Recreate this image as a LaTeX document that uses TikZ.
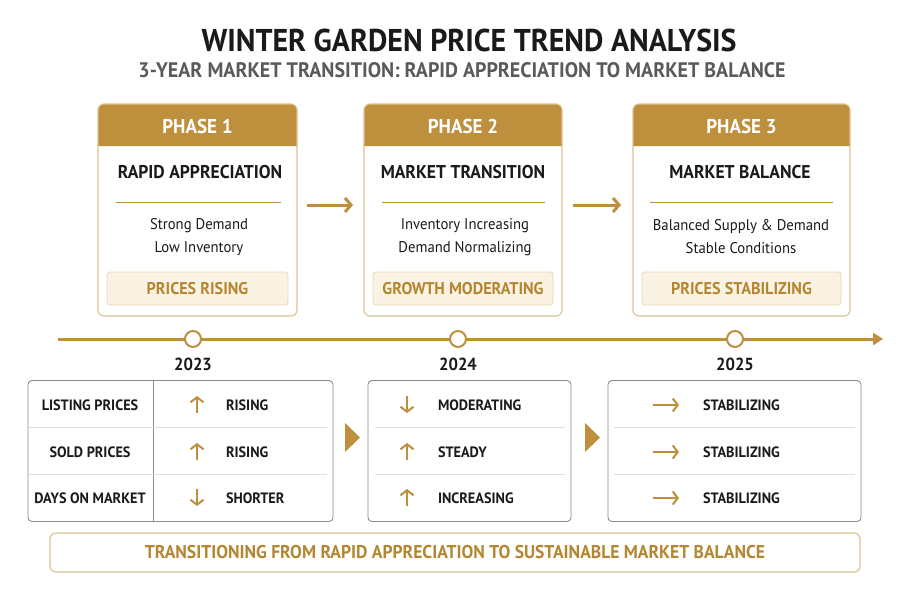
\documentclass[tikz,border=0pt]{standalone}
\usepackage{fontspec}
\setmainfont{PT Sans}[FakeStretch=0.95]
\usetikzlibrary{arrows.meta,calc}
\definecolor{gold}{HTML}{BE8F3D}
\definecolor{goldtxt}{HTML}{B58630}
\definecolor{tanb}{HTML}{DCC28F}
\definecolor{cream}{HTML}{FAF2E3}
\definecolor{creamb}{HTML}{E9D8B8}
\definecolor{subgray}{HTML}{5A5A5A}
\definecolor{tblb}{HTML}{8C8C8C}
\definecolor{sepg}{HTML}{DEDEDE}
\definecolor{ink}{HTML}{1A1A1A}
\begin{document}
\begin{tikzpicture}[x=1pt,y=-1pt,
  every node/.style={inner sep=0pt, outer sep=0pt},
  phase/.style={fill=white, minimum height=212pt},
  phaseframe/.style={draw=tanb, line width=1.1pt, rounded corners=6pt},
  headtxt/.style={text=white, font=\bfseries\fontsize{20}{20}\selectfont},
  ptitle/.style={text=ink, font=\bfseries\fontsize{18.5}{18.5}\selectfont},
  pline/.style={text=ink, align=center, font=\fontsize{15.5}{23}\selectfont},
  divider/.style={draw=gold, line width=1pt},
  tagbox/.style={draw=creamb, fill=cream, line width=0.8pt, rounded corners=3pt, minimum height=33pt, text=goldtxt, font=\bfseries\fontsize{17}{17}\selectfont},
  phasearrow/.style={draw=gold, line width=3pt, -{Straight Barb[length=6pt,width=14pt]}},
  timeline/.style={draw=gold, line width=3pt, -{Triangle[length=10pt,width=12pt]}},
  yeardot/.style={circle, draw=gold, line width=2pt, fill=white, minimum size=16pt},
  year/.style={text=ink, font=\bfseries\fontsize{17.5}{17.5}\selectfont},
  tbl/.style={draw=tblb, line width=0.9pt, rounded corners=4pt, fill=white, minimum height=141pt},
  rowsep/.style={draw=sepg, line width=0.8pt},
  rowlab/.style={text=ink, font=\bfseries\fontsize{15}{15}\selectfont},
  rowval/.style={text=ink, anchor=west, font=\bfseries\fontsize{15}{15}\selectfont},
  icon/.style={draw=gold, line width=2pt, -{Straight Barb[length=5pt,width=13pt]}},
  banner/.style={draw=tanb, line width=1.2pt, rounded corners=6pt, fill=white, minimum height=39pt, text=goldtxt, font=\bfseries\fontsize{18.5}{18.5}\selectfont}
]
\useasboundingbox (0,0) rectangle (909,600);
\fill[white] (0,0) rectangle (909,600);

% titles
\node[text=ink, font=\bfseries\fontsize{31.5}{31.5}\selectfont] (title) at (469,40) {WINTER GARDEN PRICE TREND ANALYSIS};
\node[text=subgray, font=\bfseries\fontsize{21}{21}\selectfont] (subtitle) at (462,70) {3-YEAR MARKET TRANSITION: RAPID APPRECIATION TO MARKET BALANCE};

% phase boxes
\node[phase, minimum width=199pt] (p1) at (197.5,210) {};
\node[phase, minimum width=198pt] (p2) at (463,210) {};
\node[phase, minimum width=217pt] (p3) at (741.5,210) {};
\foreach \b in {p1,p2,p3}{
  \fill[gold] ($(\b.north west)+(0,42)$) [rounded corners=6pt] -- (\b.north west) -- (\b.north east) [sharp corners] -- ($(\b.north east)+(0,42)$) -- cycle;
  \draw[phaseframe] (\b.north west) rectangle (\b.south east);
}
\node[headtxt] (h1) at (197.5,126) {PHASE 1};
\node[headtxt] (h2) at (463,126) {PHASE 2};
\node[headtxt] (h3) at (741.5,126) {PHASE 3};

\node[ptitle] (t1) at (200,172) {RAPID APPRECIATION};
\node[ptitle] (t2) at (463,172) {MARKET TRANSITION};
\node[ptitle] (t3) at (740,172) {MARKET BALANCE};

\draw[divider] (116,202) -- (281,202);
\draw[divider] (382,202) -- (545,202);
\draw[divider] (650,202) -- (833,202);

\node[pline] (l1) at (199,237) {Strong Demand\\Low Inventory};
\node[pline] (l2) at (465,237) {Inventory Increasing\\Demand Normalizing};
\node[pline] (l3) at (741,237) {Balanced Supply \& Demand\\Stable Conditions};

\node[tagbox, minimum width=181pt] (g1) at (197.5,288.5) {PRICES RISING};
\node[tagbox, minimum width=180pt] (g2) at (463,288.5) {GROWTH MODERATING};
\node[tagbox, minimum width=199pt] (g3) at (741.5,288.5) {PRICES STABILIZING};

\draw[phasearrow, shorten <=10pt, shorten >=11pt] ([yshift=5pt]p1.east) -- ([yshift=5pt]p2.west);
\draw[phasearrow, shorten <=11pt, shorten >=12pt] ([yshift=5pt]p2.east) -- ([yshift=5pt]p3.west);

% timeline
\coordinate (tl0) at (58,339);
\coordinate (tl1) at (883,339);
\draw[timeline] (tl0) -- (tl1);
\node[yeardot] (d1) at (193,339) {};
\node[yeardot] (d2) at (458,339) {};
\node[yeardot] (d3) at (735,339) {};
\node[year] (y1) at (193,364) {2023};
\node[year] (y2) at (458,364) {2024};
\node[year] (y3) at (735,364) {2025};

% tables
\node[tbl, minimum width=305pt] (tb1) at (180.5,451) {};
\node[tbl, minimum width=203pt] (tb2) at (469.5,451) {};
\node[tbl, minimum width=253pt] (tb3) at (734.5,451) {};

\draw[tblb, line width=0.9pt] (153,380.5) -- (153,521.5);
\draw[rowsep] (28.5,427.5) -- (327,427.5);
\draw[rowsep] (28.5,474.5) -- (327,474.5);
\draw[rowsep] (375,427.5) -- (565,427.5);
\draw[rowsep] (375,474.5) -- (565,474.5);
\draw[rowsep] (614,427.5) -- (855,427.5);
\draw[rowsep] (614,474.5) -- (855,474.5);

\node[rowlab] (r1) at (90,405) {LISTING PRICES};
\node[rowlab] (r2) at (90,452) {SOLD PRICES};
\node[rowlab] (r3) at (90,498) {DAYS ON MARKET};

% table 1 values
\draw[icon] (197,413) -- (197,396);
\draw[icon] (197,460) -- (197,443);
\draw[icon] (197,489) -- (197,506);
\node[rowval] (v11) at (226,405) {RISING};
\node[rowval] (v12) at (226,452) {RISING};
\node[rowval] (v13) at (226,498) {SHORTER};

% table 2 values
\draw[icon] (407,396) -- (407,413);
\draw[icon] (407,460) -- (407,443);
\draw[icon] (407,506) -- (407,489);
\node[rowval] (v21) at (438,405) {MODERATING};
\node[rowval] (v22) at (438,452) {STEADY};
\node[rowval] (v23) at (438,498) {INCREASING};

% table 3 values
\draw[icon] (653,405) -- (679,405);
\draw[icon] (653,452) -- (679,452);
\draw[icon] (653,498) -- (679,498);
\node[rowval] (v31) at (703,405) {STABILIZING};
\node[rowval] (v32) at (703,452) {STABILIZING};
\node[rowval] (v33) at (703,498) {STABILIZING};

% pointers between tables
\fill[gold] (345,423) -- (360,437.5) -- (345,452) -- cycle;
\fill[gold] (585,423) -- (600,437.5) -- (585,452) -- cycle;

% banner
\node[banner, minimum width=810pt] (bn) at (455,552.5) {TRANSITIONING FROM RAPID APPRECIATION TO SUSTAINABLE MARKET BALANCE};
\end{tikzpicture}
\end{document}
